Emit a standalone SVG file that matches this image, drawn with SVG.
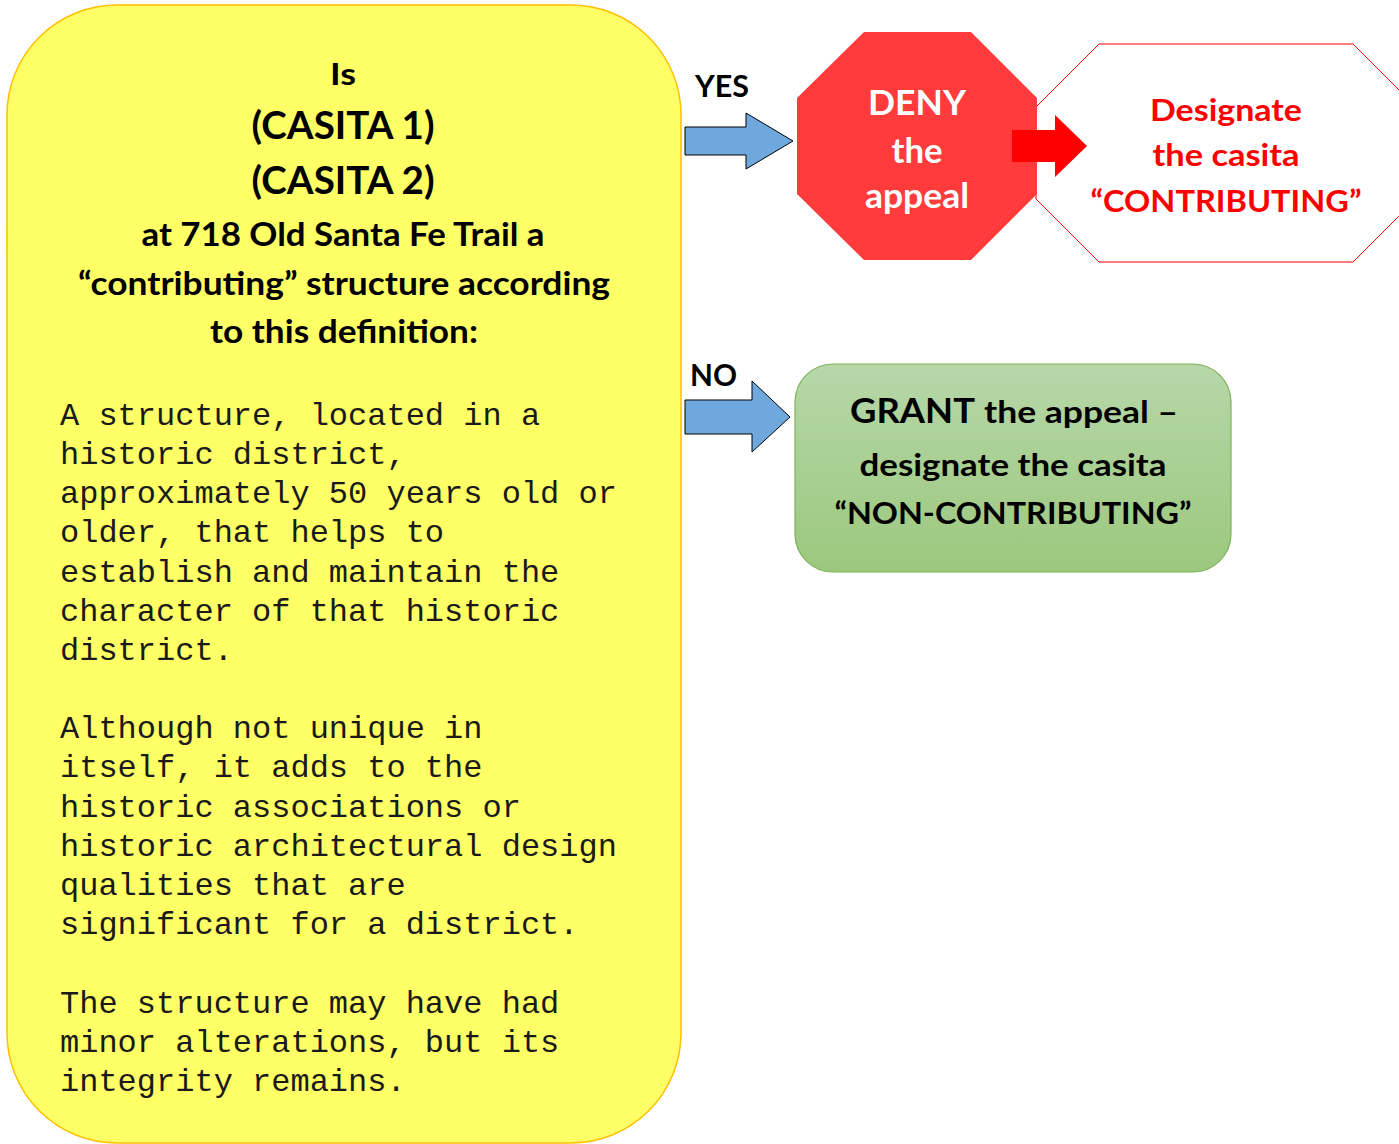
<svg xmlns="http://www.w3.org/2000/svg" width="1399" height="1144" viewBox="0 0 1399 1144">
<defs>
<linearGradient id="grn" x1="0" y1="0" x2="0" y2="1">
<stop offset="0" stop-color="#B7D7A9"/>
<stop offset="1" stop-color="#9BC87D"/>
</linearGradient>
<style>
.b{font-family:Lato,"Open Sans","Liberation Sans",sans-serif;font-weight:bold;}
.m{font-family:"Liberation Mono","Courier New",monospace;font-size:32px;fill:#1a1a1a;}
.blue{fill:#6FA8DC;stroke:#000;stroke-width:1;}
</style>
</defs>
<rect width="1399" height="1144" fill="#fff"/>
<g id="question">
<rect x="7" y="5" width="674" height="1138" rx="110" ry="110" fill="#FFFF66" stroke="#FFC000" stroke-width="1.5"/>
<g class="b" text-anchor="middle" fill="#000">
<text x="343" y="85" font-size="30" textLength="26" lengthAdjust="spacingAndGlyphs">Is</text>
<text x="343" y="139" font-size="39" textLength="183" lengthAdjust="spacingAndGlyphs">(CASITA 1)</text>
<text x="343" y="194" font-size="39" textLength="183" lengthAdjust="spacingAndGlyphs">(CASITA 2)</text>
<text x="343" y="246" font-size="33" textLength="403" lengthAdjust="spacingAndGlyphs">at 718 Old Santa Fe Trail a</text>
<text x="344" y="295" font-size="33" textLength="532" lengthAdjust="spacingAndGlyphs">“contributing” structure according</text>
<text x="344" y="343" font-size="33" textLength="268" lengthAdjust="spacingAndGlyphs">to this definition:</text>
</g>
<g class="m">
<text x="60" y="425">A structure, located in a</text>
<text x="60" y="464">historic district,</text>
<text x="60" y="503">approximately 50 years old or</text>
<text x="60" y="542">older, that helps to</text>
<text x="60" y="582">establish and maintain the</text>
<text x="60" y="621">character of that historic</text>
<text x="60" y="660">district.</text>
<text x="60" y="738">Although not unique in</text>
<text x="60" y="777">itself, it adds to the</text>
<text x="60" y="817">historic associations or</text>
<text x="60" y="856">historic architectural design</text>
<text x="60" y="895">qualities that are</text>
<text x="60" y="934">significant for a district.</text>
<text x="60" y="1013">The structure may have had</text>
<text x="60" y="1052">minor alterations, but its</text>
<text x="60" y="1091">integrity remains.</text>
</g>
</g>
<g id="designate">
<polygon points="1099,44 1353,44 1416,107 1416,199 1353,262 1099,262 1036,199 1036,107" fill="#fff" stroke="#FF0000" stroke-width="1"/>
<g class="b" text-anchor="middle" fill="#FF0000">
<text x="1226" y="121" font-size="31" textLength="152" lengthAdjust="spacingAndGlyphs">Designate</text>
<text x="1226" y="166" font-size="31" textLength="147" lengthAdjust="spacingAndGlyphs">the casita</text>
<text x="1226" y="212" font-size="31" textLength="271" lengthAdjust="spacingAndGlyphs">“CONTRIBUTING”</text>
</g>
</g>
<g id="deny">
<polygon points="864,32 971,32 1037,98 1037,194 971,260 864,260 797,194 797,98" fill="#FF3B3B"/>
<g class="b" text-anchor="middle" fill="#fff">
<text x="917" y="115" font-size="35" textLength="98" lengthAdjust="spacingAndGlyphs">DENY</text>
<text x="917" y="163" font-size="35" textLength="51" lengthAdjust="spacingAndGlyphs">the</text>
<text x="917" y="208" font-size="35" textLength="104" lengthAdjust="spacingAndGlyphs">appeal</text>
</g>
</g>
<g id="grant">
<rect x="795" y="364" width="436" height="208" rx="38" ry="38" fill="url(#grn)" stroke="#7CB35A" stroke-width="1.2"/>
<g class="b" fill="#000">
<text x="850" y="423" font-size="35" textLength="125" lengthAdjust="spacingAndGlyphs">GRANT</text>
<text x="984" y="423" font-size="31" textLength="194" lengthAdjust="spacingAndGlyphs">the appeal –</text>
<text x="1013" y="476" font-size="31" text-anchor="middle" textLength="307" lengthAdjust="spacingAndGlyphs">designate the casita</text>
<text x="1013" y="524" font-size="31" text-anchor="middle" textLength="357" lengthAdjust="spacingAndGlyphs">“NON-CONTRIBUTING”</text>
</g>
</g>
<g id="connectors">
<g id="yes-arrow">
<polygon class="blue" points="685,127 746,127 746,113 793,141 746,169 746,155 685,155"/>
<text class="b" x="695" y="97" font-size="30" textLength="54" lengthAdjust="spacingAndGlyphs" fill="#000">YES</text>
</g>
<g id="no-arrow">
<polygon class="blue" points="685,400 752,400 752,381 790,417 752,452 752,434 685,434"/>
<text class="b" x="690" y="386" font-size="30" textLength="47" lengthAdjust="spacingAndGlyphs" fill="#000">NO</text>
</g>
<polygon id="deny-to-designate" points="1012,130 1055,130 1055,115 1087,146 1055,177 1055,162 1012,162" fill="#FF0000"/>
</g>
</svg>
